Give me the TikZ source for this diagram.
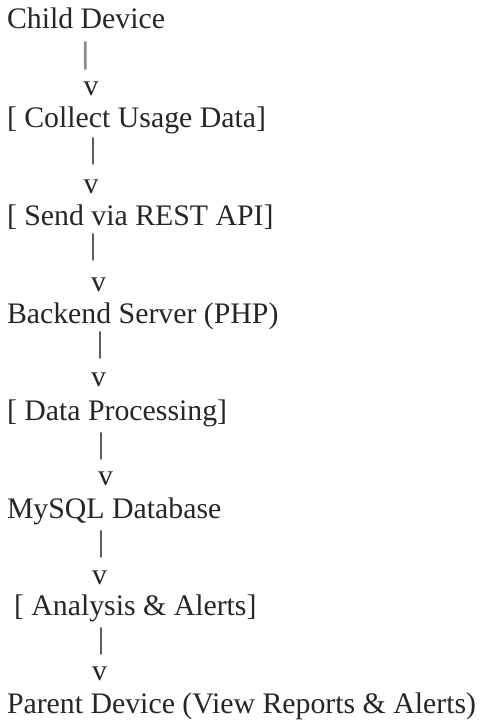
\documentclass[tikz,border=0pt]{standalone}
\usepackage{fontspec}
\setmainfont{Liberation Serif}
\begin{document}
\begin{tikzpicture}[x=1pt,y=-1pt,
  every node/.style={inner sep=0pt,outer sep=0pt,font=\fontsize{29.8}{32}\selectfont,text=black!85},
  stage/.style={anchor=base west},
  pipe/.style={anchor=center},
  tip/.style={anchor=center}]
\useasboundingbox (0,0) rectangle (482,721);

% stages of the data flow
\node[stage] (child)   at (7,28)   {Child Device};
\node[stage] (collect) at (7,127)  {[ Collect Usage Data]};
\node[stage] (send)    at (7,225)  {[ Send via REST API]};
\node[stage] (backend) at (7,323)  {Backend Server (PHP)};
\node[stage] (process) at (7,420)  {[ Data Processing]};
\node[stage] (mysql)   at (7,518)  {MySQL Database};
\node[stage] (analyse) at (14,615) {[ Analysis \& Alerts]};
\node[stage] (parent)  at (7,713)  {Parent Device (View Reports \& Alerts)};

% text arrows between the stages
\node[pipe,text=black!45,font=\fontsize{29.8}{32}\selectfont\addfontfeature{FakeBold=4}] (p1) at (85.3,55.5) {|};
\node[tip] (v1) at (91,89)    {v};
\node[pipe] (p2) at (93,151.5) {|};
\node[tip] (v2) at (91,186.5)  {v};
\node[pipe] (p3) at (93,247.5) {|};
\node[tip] (v3) at (98.5,285)  {v};
\node[pipe] (p4) at (100,345)  {|};
\node[tip] (v4) at (98.5,380)  {v};
\node[pipe] (p5) at (101,446)  {|};
\node[tip] (v5) at (105.5,478.5) {v};
\node[pipe] (p6) at (101,544.5) {|};
\node[tip] (v6) at (99.5,577.5) {v};
\node[pipe] (p7) at (101,641)  {|};
\node[tip] (v7) at (99.5,673.5) {v};
\end{tikzpicture}
\end{document}
